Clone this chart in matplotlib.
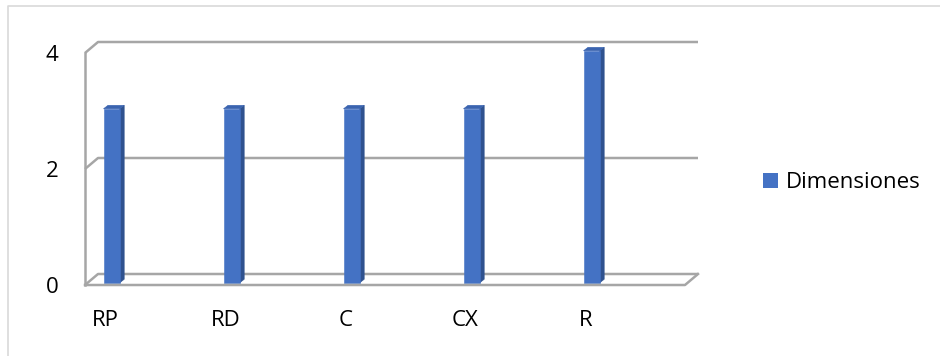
import matplotlib
matplotlib.use("Agg")
import matplotlib.pyplot as plt
from matplotlib.patches import Polygon, Patch
from matplotlib.lines import Line2D

categories = ['RP', 'RD', 'C', 'CX', 'R']
values = [3, 3, 3, 3, 4]
y_ticks = [0, 2, 4]
series_name = 'Dimensiones'

FONT = 'Open Sans'
FS = 16
FRONT = '#4472C4'
SIDE = '#2F528F'
TOP = '#3B64B0'
GRID = '#A6A6A6'

W, H = 940, 356
fig = plt.figure(figsize=(W / 100, H / 100), dpi=100)
ax = fig.add_axes([85 / W, 71 / H, 600 / W, 232 / H])
x0, x1 = -0.2, 4.8
ax.set_xlim(x0, x1)
ax.set_ylim(0, 4)
for s in ax.spines.values():
    s.set_visible(False)

DX = 13 / 120
DY = 11 / 58

# perspective gridlines / walls
lw = 1.8
for v in y_ticks:
    ax.plot([x0, x0 + DX, x1 + DX], [v, v + DY, v + DY], color=GRID, lw=lw,
            clip_on=False, zorder=1, solid_capstyle='butt')
ax.plot([x0, x1, x1 + DX], [0, 0, DY], color=GRID, lw=lw, clip_on=False, zorder=5)
ax.plot([x0, x0], [0, 4], color=GRID, lw=lw, clip_on=False, zorder=1)

# 3D bars
idx = list(range(len(categories)))
f = 0.2
bw = 0.135
sdx, sdy = 4.5 / 120, 3.5 / 58
xs = [i + f * DX for i in idx]
base = f * DY
bars = ax.bar(xs, values, width=bw, bottom=base, color=FRONT, zorder=4,
              edgecolor=FRONT, linewidth=0.4)
for b in bars:
    b.set_clip_on(False)
for x, v in zip(xs, values):
    r = x + bw / 2
    l = x - bw / 2
    top = base + v
    ax.add_patch(Polygon([(r, base), (r + sdx, base + sdy), (r + sdx, top + sdy), (r, top)],
                         closed=True, facecolor=SIDE, edgecolor=SIDE, lw=0.4, zorder=3,
                         clip_on=False))
    ax.add_patch(Polygon([(l, top), (r, top), (r + sdx, top + sdy), (l + sdx, top + sdy)],
                         closed=True, facecolor=TOP, edgecolor=TOP, lw=0.4, zorder=3,
                         clip_on=False))

ax.set_xticks([i - 0.03 for i in idx])
ax.set_xticklabels(categories, fontfamily=FONT, fontsize=FS)
ax.set_yticks(y_ticks)
ax.set_yticklabels([str(t) for t in y_ticks], fontfamily=FONT, fontsize=FS)
ax.tick_params(axis='x', length=0, pad=18)
ax.tick_params(axis='y', length=0, pad=19)
for lab in ax.get_yticklabels():
    lab.set_verticalalignment('center_baseline')

fig.legend(handles=[Patch(facecolor=FRONT, edgecolor='none')], labels=[series_name],
           loc='center left', bbox_to_anchor=(763 / W, 1 - 183 / H), frameon=False,
           prop={'family': FONT, 'size': FS}, handlelength=0.68, handleheight=0.68,
           handletextpad=0.33, borderpad=0, borderaxespad=0)

# outer chart border (top and left visible)
fig.add_artist(Line2D([8 / W, 8 / W, 1], [0, 1 - 6 / H, 1 - 6 / H], color='#D9D9D9', lw=1.2,
                      transform=fig.transFigure))

fig.savefig('out.png', dpi=100)
